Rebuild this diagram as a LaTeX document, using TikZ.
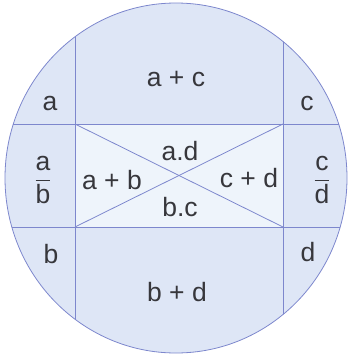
\documentclass[tikz,border=0pt]{standalone}
\usepackage{amsmath}
\usepackage{fontspec}
\setmainfont{Liberation Sans}
\usepackage{tikz}
\usetikzlibrary{calc}
\definecolor{disc-fill}{RGB}{222, 230, 246}
\definecolor{core-fill}{RGB}{238, 244, 251}
\definecolor{disc-line}{RGB}{125, 135, 205}
\definecolor{lbl-text}{RGB}{55, 55, 60}

\begin{document}
\begin{tikzpicture}[x=1pt, y=-1pt,
        lbl/.style={font=\fontsize{26.5}{30}\selectfont, text=lbl-text,
                    inner sep=0pt},
        rule/.style={draw=disc-line, line width=0.8pt}
      ]
        \useasboundingbox (0,0) rectangle (351,359);
        % disc and inner rectangle
        \fill[disc-fill] (176,178) ellipse [x radius=171, y radius=175];
        \coordinate (tl) at (75,124);
        \coordinate (tr) at (283,124);
        \coordinate (bl) at (75,227);
        \coordinate (br) at (283,227);
        \fill[core-fill] (tl) rectangle (br);
        \begin{scope}
          \clip (176,178) ellipse [x radius=171, y radius=175];
          \draw[rule] ($(tl)+(-80,0)$) -- ($(tr)+(80,0)$);
          \draw[rule] ($(bl)+(-80,0)$) -- ($(br)+(80,0)$);
          \draw[rule] ($(tl)+(0,-120)$) -- ($(bl)+(0,120)$);
          \draw[rule] ($(tr)+(0,-120)$) -- ($(br)+(0,120)$);
        \end{scope}
        \draw[rule] (tl) -- (br);
        \draw[rule] (bl) -- (tr);
        \draw[rule] (176,178) ellipse [x radius=171, y radius=175];
        % labels
        \node[lbl] (ac) at (176,79) {a + c};
        \node[lbl] (a) at (50,103) {a};
        \node[lbl] (c) at (307,103) {c};
        \node[lbl] (ab) at (43,180) {$\dfrac{\mbox{a}}{\mbox{b}}$};
        \node[lbl] (cd) at (322,180) {$\dfrac{\mbox{c}}{\mbox{d}}$};
        \node[lbl] (apb) at (112,180) {a + b};
        \node[lbl] (cpd) at (249,178) {c + d};
        \node[lbl] (ad) at (180,151) {a.d};
        \node[lbl] (bc) at (180,207) {b.c};
        \node[lbl] (b) at (51,254) {b};
        \node[lbl] (d) at (308,252) {d};
        \node[lbl] (bd) at (177,292) {b + d};
      \end{tikzpicture}
\end{document}
